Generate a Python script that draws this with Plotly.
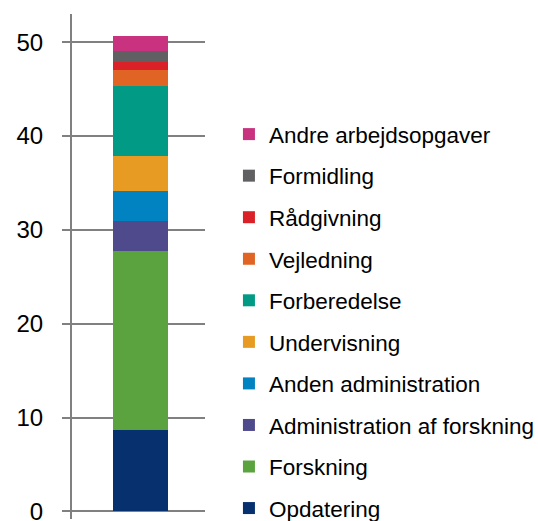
import plotly.graph_objects as go

categories = ["Opdatering", "Forskning", "Administration af forskning", "Anden administration",
              "Undervisning", "Forberedelse", "Vejledning", "Rådgivning", "Formidling",
              "Andre arbejdsopgaver"]
values = [8.7, 19.0, 3.2, 3.2, 3.8, 7.4, 1.7, 0.9, 1.2, 1.6]
colors = ["#06306E", "#5BA33F", "#4F4A8C", "#0083C0", "#E89B22",
          "#009A85", "#E06424", "#DA2128", "#606062", "#C8327F"]
y_ticks = [0, 10, 20, 30, 40, 50]

fig = go.Figure()
for i, (name, v, c) in enumerate(zip(categories, values, colors)):
    fig.add_trace(go.Bar(x=[""], y=[v], name=name, marker=dict(color=c, line=dict(width=0)),
                         width=0.414, legendgroup=name, legendrank=100 - i))

grid = "#808080"
fig.update_layout(
    barmode="stack",
    width=538, height=521,
    margin=dict(l=72, r=333, t=14, b=2, autoexpand=False),
    plot_bgcolor="white", paper_bgcolor="white",
    font=dict(family="Liberation Sans, Arial, sans-serif", size=22, color="#000000"),
    showlegend=True,
    legend=dict(x=1.18, xanchor="left", y=0.804, yanchor="top",
                traceorder="grouped", tracegroupgap=9.3,
                font=dict(size=22.5), bgcolor="rgba(0,0,0,0)"),
    xaxis=dict(visible=False, range=[-0.515, 0.485]),
    yaxis=dict(range=[-0.8, 53], tickvals=y_ticks, showgrid=True, gridcolor=grid, gridwidth=2,
               zeroline=True, zerolinecolor=grid, zerolinewidth=2,
               showline=True, linecolor=grid, linewidth=2,
               ticks="outside", ticklen=8, tickwidth=2, tickcolor=grid,
               ticklabelstandoff=14, tickfont=dict(size=24), ticklabeloverflow="allow"),
)
fig.write_html("out.html", config={"displayModeBar": False},
               post_script="document.body.style.margin='0';document.body.style.overflow='hidden';")
